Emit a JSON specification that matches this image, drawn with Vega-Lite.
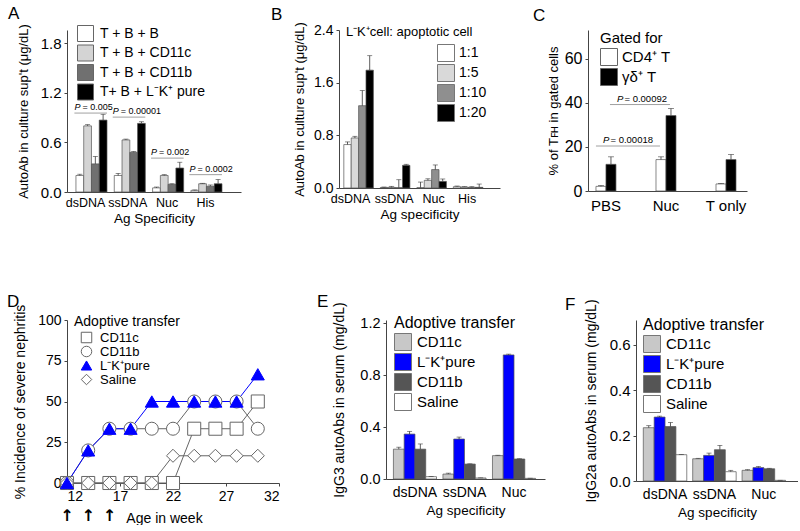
{
"$schema": "https://vega.github.io/schema/vega-lite/v6.json",
"padding": {"left": 7, "top": 5, "right": 0, "bottom": 0},
"config": {
  "font": "Liberation Sans",
  "view": {"stroke": null},
  "axis": {"domainColor": "#444", "tickColor": "#444", "labelColor": "#000", "titleColor": "#000", "grid": false, "tickSize": 3, "labelFontSize": 15, "titleFontSize": 13, "titleFontWeight": "normal", "labelFont": "Liberation Sans", "titleFont": "Liberation Sans"},
  "legend": {"labelFont": "Liberation Sans", "titleFont": "Liberation Sans", "titleFontWeight": "normal", "padding": 0, "labelColor": "#000", "titleColor": "#000"},
  "title": {"font": "Liberation Sans", "fontSize": 17, "fontWeight": "normal", "anchor": "start", "frame": "group", "baseline": "alphabetic"},
  "text": {"font": "Liberation Sans"}
},
"resolve": {"scale": {"color": "independent", "xOffset": "independent", "shape": "independent", "fill": "independent", "stroke": "independent", "x": "independent", "y": "independent"}, "legend": {"color": "independent", "shape": "independent", "fill": "independent", "stroke": "independent"}},
"spacing": 67,
"vconcat": [
{
  "bounds": "flush",
  "spacing": 98,
  "resolve": {"scale": {"color": "independent", "xOffset": "independent", "shape": "independent", "fill": "independent", "stroke": "independent", "x": "independent", "y": "independent"}, "legend": {"color": "independent", "shape": "independent", "fill": "independent", "stroke": "independent"}},
  "hconcat": [
  {
    "width": 174, "height": 162,
    "title": {"text": "A", "dx": -59, "offset": 0.5},
    "data": {"values": [
      {"Ag": "dsDNA", "grp": "T + B + B", "v": 0.20, "hi": 0.215},
      {"Ag": "dsDNA", "grp": "T + B + CD11c", "v": 0.80, "hi": 0.815},
      {"Ag": "dsDNA", "grp": "T + B + CD11b", "v": 0.34, "hi": 0.43},
      {"Ag": "dsDNA", "grp": "T+ B + L⁻K⁺ pure", "v": 0.87, "hi": 0.94},
      {"Ag": "ssDNA", "grp": "T + B + B", "v": 0.20, "hi": 0.225},
      {"Ag": "ssDNA", "grp": "T + B + CD11c", "v": 0.63, "hi": 0.64},
      {"Ag": "ssDNA", "grp": "T + B + CD11b", "v": 0.48, "hi": 0.49},
      {"Ag": "ssDNA", "grp": "T+ B + L⁻K⁺ pure", "v": 0.83, "hi": 0.85},
      {"Ag": "Nuc", "grp": "T + B + B", "v": 0.05, "hi": 0.06},
      {"Ag": "Nuc", "grp": "T + B + CD11c", "v": 0.20, "hi": 0.21},
      {"Ag": "Nuc", "grp": "T + B + CD11b", "v": 0.093, "hi": 0.10},
      {"Ag": "Nuc", "grp": "T+ B + L⁻K⁺ pure", "v": 0.29, "hi": 0.36},
      {"Ag": "His", "grp": "T + B + B", "v": 0.02, "hi": 0.025},
      {"Ag": "His", "grp": "T + B + CD11c", "v": 0.10, "hi": 0.105},
      {"Ag": "His", "grp": "T + B + CD11b", "v": 0.07, "hi": 0.085},
      {"Ag": "His", "grp": "T+ B + L⁻K⁺ pure", "v": 0.10, "hi": 0.15}
    ]},
    "layer": [
      {
        "mark": {"type": "bar", "stroke": "#555", "strokeWidth": 0.7},
        "encoding": {
          "x": {"field": "Ag", "type": "nominal", "scale": {"domain": ["dsDNA", "ssDNA", "Nuc", "His"], "paddingInner": 0.19, "paddingOuter": 0.365, "align": 0.32}, "axis": {"title": "Ag Specificity", "labelAngle": 0, "ticks": false, "labelPadding": 4, "titlePadding": 3, "labelFontSize": 12.5, "labelOffset": {"condition": [{"test": "datum.value === 'dsDNA'", "value": -6}, {"test": "datum.value === 'ssDNA'", "value": -2}], "value": -1}, "titleFontSize": 13.5}},
          "xOffset": {"field": "grp", "type": "nominal", "scale": {"domain": ["T + B + B", "T + B + CD11c", "T + B + CD11b", "T+ B + L⁻K⁺ pure"], "paddingInner": 0, "paddingOuter": 0}},
          "y": {"field": "v", "type": "quantitative", "title": "AutoAb in culture sup't (μg/dL)", "scale": {"domain": [0, 1.96], "nice": false}, "axis": {"values": [0, 0.6, 1.2, 1.8], "format": ".1f", "titlePadding": 10, "labelPadding": 3}},
          "color": {"field": "grp", "type": "nominal", "scale": {"domain": ["T + B + B", "T + B + CD11c", "T + B + CD11b", "T+ B + L⁻K⁺ pure"], "range": ["#ffffff", "#d4d4d4", "#707070", "#000000"]}, "legend": {"title": null, "orient": "none", "legendX": 10, "legendY": -5, "symbolType": "square", "symbolSize": 256, "symbolStrokeColor": "#666", "symbolStrokeWidth": 1, "symbolOpacity": 1, "labelFontSize": 14, "rowPadding": -1.5, "labelOffset": 6}}
        }
      },
      {
        "mark": {"type": "rule", "color": "#333", "strokeWidth": 0.8},
        "encoding": {
          "x": {"field": "Ag", "type": "nominal"},
          "xOffset": {"field": "grp", "type": "nominal"},
          "y": {"field": "v", "type": "quantitative", "title": "AutoAb in culture sup't (μg/dL)"},
          "y2": {"field": "hi"}
        }
      },
      {
        "mark": {"type": "tick", "orient": "horizontal", "size": 5, "thickness": 0.8, "color": "#333"},
        "encoding": {
          "x": {"field": "Ag", "type": "nominal"},
          "xOffset": {"field": "grp", "type": "nominal"},
          "y": {"field": "hi", "type": "quantitative", "title": "AutoAb in culture sup't (μg/dL)"}
        }
      },
      {
        "data": {"values": [
          {"Ag": "dsDNA", "v": 0.955, "p": "= 0.005"},
          {"Ag": "ssDNA", "v": 0.906, "p": "= 0.00001"},
          {"Ag": "Nuc", "v": 0.41, "p": "= 0.002"},
          {"Ag": "His", "v": 0.21, "p": "= 0.0002"}
        ]},
        "layer": [
          {
            "mark": {"type": "rule", "color": "#888", "strokeWidth": 0.8},
            "encoding": {
              "x": {"field": "Ag", "type": "nominal", "bandPosition": -0.05},
              "x2": {"field": "Ag", "bandPosition": 1.0},
              "y": {"field": "v", "type": "quantitative", "title": "AutoAb in culture sup't (μg/dL)"}
            }
          },
          {
            "mark": {"type": "text", "text": "P", "fontStyle": "italic", "fontSize": 9, "align": "left", "baseline": "bottom", "dy": -1},
            "encoding": {
              "x": {"field": "Ag", "type": "nominal", "bandPosition": -0.05},
              "y": {"field": "v", "type": "quantitative", "title": "AutoAb in culture sup't (μg/dL)"}
            }
          },
          {
            "mark": {"type": "text", "fontSize": 9, "align": "left", "baseline": "bottom", "dy": -1, "dx": 8},
            "encoding": {
              "x": {"field": "Ag", "type": "nominal", "bandPosition": -0.05},
              "y": {"field": "v", "type": "quantitative", "title": "AutoAb in culture sup't (μg/dL)"},
              "text": {"field": "p"}
            }
          }
        ]
      }
    ]
  },
  {
    "bounds": "flush",
    "spacing": 88,
    "resolve": {"scale": {"color": "independent", "xOffset": "independent", "shape": "independent", "fill": "independent", "stroke": "independent", "x": "independent", "y": "independent"}, "legend": {"color": "independent", "shape": "independent", "fill": "independent", "stroke": "independent"}},
    "hconcat": [
    {
      "width": 161, "height": 158,
      "title": {"text": "B", "dx": -68, "offset": -2},
      "data": {"values": [
        {"Ag": "dsDNA", "grp": "1:1", "v": 0.66, "hi": 0.70},
        {"Ag": "dsDNA", "grp": "1:5", "v": 0.76, "hi": 0.785},
        {"Ag": "dsDNA", "grp": "1:10", "v": 1.25, "hi": 1.48},
        {"Ag": "dsDNA", "grp": "1:20", "v": 1.79, "hi": 2.01},
        {"Ag": "ssDNA", "grp": "1:1", "v": 0.008, "hi": 0.015},
        {"Ag": "ssDNA", "grp": "1:5", "v": 0.01, "hi": 0.025},
        {"Ag": "ssDNA", "grp": "1:10", "v": 0.005, "hi": 0.126},
        {"Ag": "ssDNA", "grp": "1:20", "v": 0.344, "hi": 0.36},
        {"Ag": "Nuc", "grp": "1:1", "v": 0.005, "hi": 0.09},
        {"Ag": "Nuc", "grp": "1:5", "v": 0.116, "hi": 0.14},
        {"Ag": "Nuc", "grp": "1:10", "v": 0.28, "hi": 0.35},
        {"Ag": "Nuc", "grp": "1:20", "v": 0.10, "hi": 0.137},
        {"Ag": "His", "grp": "1:1", "v": 0.02, "hi": 0.03},
        {"Ag": "His", "grp": "1:5", "v": 0.015, "hi": 0.02},
        {"Ag": "His", "grp": "1:10", "v": 0.01, "hi": 0.02},
        {"Ag": "His", "grp": "1:20", "v": 0.01, "hi": 0.06}
      ]},
      "layer": [
        {
          "mark": {"type": "bar", "stroke": "#555", "strokeWidth": 0.7},
          "encoding": {
            "x": {"field": "Ag", "type": "nominal", "scale": {"domain": ["dsDNA", "ssDNA", "Nuc", "His"], "paddingInner": 0.19, "paddingOuter": 0.3, "align": 0.22}, "axis": {"title": "Ag specificity", "labelAngle": 0, "ticks": false, "labelPadding": 4, "titlePadding": 3, "labelFontSize": 12.5, "labelOffset": {"condition": [{"test": "datum.value === 'dsDNA'", "value": -8}, {"test": "datum.value === 'Nuc'", "value": 2}], "value": -1}, "titleFontSize": 13.5}},
            "xOffset": {"field": "grp", "type": "nominal", "scale": {"domain": ["1:1", "1:5", "1:10", "1:20"], "paddingInner": 0, "paddingOuter": 0}},
            "y": {"field": "v", "type": "quantitative", "title": "AutoAb in culture sup't (μg/dL)", "scale": {"domain": [0, 2.4], "nice": false}, "axis": {"values": [0, 0.8, 1.6, 2.4], "format": ".1f", "titlePadding": 7, "labelPadding": 3, "labelFontSize": 14}},
            "color": {"field": "grp", "type": "nominal", "scale": {"domain": ["1:1", "1:5", "1:10", "1:20"], "range": ["#ffffff", "#d9d9d9", "#8f8f8f", "#000000"]}, "legend": {"title": null, "orient": "none", "legendX": 98, "legendY": 14, "symbolType": "square", "symbolSize": 289, "symbolStrokeColor": "#777", "symbolStrokeWidth": 1, "symbolOpacity": 1, "labelFontSize": 14, "rowPadding": -2, "labelOffset": 4}}
          }
        },
        {
          "mark": {"type": "rule", "color": "#333", "strokeWidth": 0.8},
          "encoding": {
            "x": {"field": "Ag", "type": "nominal"},
            "xOffset": {"field": "grp", "type": "nominal"},
            "y": {"field": "v", "type": "quantitative", "title": "AutoAb in culture sup't (μg/dL)"},
            "y2": {"field": "hi"}
          }
        },
        {
          "mark": {"type": "tick", "orient": "horizontal", "size": 5, "thickness": 0.8, "color": "#333"},
          "encoding": {
            "x": {"field": "Ag", "type": "nominal"},
            "xOffset": {"field": "grp", "type": "nominal"},
            "y": {"field": "hi", "type": "quantitative", "title": "AutoAb in culture sup't (μg/dL)"}
          }
        },
        {
          "data": {"values": [{"Ag": "dsDNA", "v": 2.4, "t": "L⁻K⁺cell: apoptotic cell"}]},
          "mark": {"type": "text", "fontSize": 13, "align": "left", "baseline": "middle", "dy": 2},
          "encoding": {
            "x": {"field": "Ag", "type": "nominal", "bandPosition": 0.07},
            "y": {"field": "v", "type": "quantitative", "title": "AutoAb in culture sup't (μg/dL)"},
            "text": {"field": "t"}
          }
        }
      ]
    },
    {
      "width": 159, "height": 161,
      "title": {"text": "C", "dx": -55, "offset": 5},
      "data": {"values": [
        {"cond": "PBS", "grp": "CD4⁺ T", "v": 2.1, "hi": 2.45},
        {"cond": "PBS", "grp": "γδ⁺ T", "v": 12.1, "hi": 15.5},
        {"cond": "Nuc", "grp": "CD4⁺ T", "v": 14.25, "hi": 15.5},
        {"cond": "Nuc", "grp": "γδ⁺ T", "v": 34.2, "hi": 37.4},
        {"cond": "T only", "grp": "CD4⁺ T", "v": 3.2, "hi": 3.4},
        {"cond": "T only", "grp": "γδ⁺ T", "v": 14.25, "hi": 16.55}
      ]},
      "layer": [
        {
          "mark": {"type": "bar", "stroke": "#555", "strokeWidth": 0.7},
          "encoding": {
            "x": {"field": "cond", "type": "nominal", "scale": {"domain": ["PBS", "Nuc", "T only"], "paddingInner": 0.667, "paddingOuter": 0.158, "align": 0.42}, "axis": {"title": null, "labelAngle": 0, "ticks": false, "labelPadding": 7, "labelFontSize": 15}},
            "xOffset": {"field": "grp", "type": "nominal", "scale": {"domain": ["CD4⁺ T", "γδ⁺ T"], "paddingInner": 0, "paddingOuter": 0}},
            "y": {"field": "v", "type": "quantitative", "title": "% of Tꜰʜ in gated cells", "scale": {"domain": [0, 73], "nice": false}, "axis": {"values": [0, 20, 40, 60], "titlePadding": 4, "labelPadding": 3, "labelFontSize": 16}},
            "color": {"field": "grp", "type": "nominal", "scale": {"domain": ["CD4⁺ T", "γδ⁺ T"], "range": ["#ffffff", "#000000"]}, "legend": {"title": "Gated for", "titleFontSize": 15, "titlePadding": 2, "orient": "none", "legendX": 12, "legendY": 1, "symbolType": "square", "symbolSize": 289, "symbolStrokeColor": "#666", "symbolStrokeWidth": 1, "symbolOpacity": 1, "labelFontSize": 15, "rowPadding": -2.5, "labelOffset": 4}}
          }
        },
        {
          "mark": {"type": "rule", "color": "#333", "strokeWidth": 0.8},
          "encoding": {
            "x": {"field": "cond", "type": "nominal"},
            "xOffset": {"field": "grp", "type": "nominal"},
            "y": {"field": "v", "type": "quantitative", "title": "% of Tꜰʜ in gated cells"},
            "y2": {"field": "hi"}
          }
        },
        {
          "mark": {"type": "tick", "orient": "horizontal", "size": 6, "thickness": 0.8, "color": "#333"},
          "encoding": {
            "x": {"field": "cond", "type": "nominal"},
            "xOffset": {"field": "grp", "type": "nominal"},
            "y": {"field": "hi", "type": "quantitative", "title": "% of Tꜰʜ in gated cells"}
          }
        },
        {
          "data": {"values": [{"from": "PBS", "to": "Nuc", "v": 20.4, "p": "= 0.00018"}]},
          "layer": [
            {
              "mark": {"type": "rule", "color": "#888", "strokeWidth": 0.8},
              "encoding": {
                "x": {"field": "from", "type": "nominal", "bandPosition": 0},
                "x2": {"field": "to", "bandPosition": 0.2},
                "y": {"field": "v", "type": "quantitative", "title": "% of Tꜰʜ in gated cells"}
              }
            },
            {
              "mark": {"type": "text", "text": "P", "fontStyle": "italic", "fontSize": 9.5, "align": "left", "baseline": "bottom", "dy": -1},
              "encoding": {
                "x": {"field": "from", "type": "nominal", "bandPosition": 0.35},
                "y": {"field": "v", "type": "quantitative", "title": "% of Tꜰʜ in gated cells"}
              }
            },
            {
              "mark": {"type": "text", "fontSize": 9.5, "align": "left", "baseline": "bottom", "dy": -1, "dx": 7.5},
              "encoding": {
                "x": {"field": "from", "type": "nominal", "bandPosition": 0.35},
                "y": {"field": "v", "type": "quantitative", "title": "% of Tꜰʜ in gated cells"},
                "text": {"field": "p"}
              }
            }
          ]
        },
        {
          "data": {"values": [{"from": "PBS", "to": "Nuc", "v": 39.2, "p": "= 0.00092"}]},
          "layer": [
            {
              "mark": {"type": "rule", "color": "#888", "strokeWidth": 0.8},
              "encoding": {
                "x": {"field": "from", "type": "nominal", "bandPosition": 0.7},
                "x2": {"field": "to", "bandPosition": 0.7},
                "y": {"field": "v", "type": "quantitative", "title": "% of Tꜰʜ in gated cells"}
              }
            },
            {
              "mark": {"type": "text", "text": "P", "fontStyle": "italic", "fontSize": 9.5, "align": "left", "baseline": "bottom", "dy": -1},
              "encoding": {
                "x": {"field": "from", "type": "nominal", "bandPosition": 1.05},
                "y": {"field": "v", "type": "quantitative", "title": "% of Tꜰʜ in gated cells"}
              }
            },
            {
              "mark": {"type": "text", "fontSize": 9.5, "align": "left", "baseline": "bottom", "dy": -1, "dx": 7.5},
              "encoding": {
                "x": {"field": "from", "type": "nominal", "bandPosition": 1.05},
                "y": {"field": "v", "type": "quantitative", "title": "% of Tꜰʜ in gated cells"},
                "text": {"field": "p"}
              }
            }
          ]
        }
      ]
    }
    ]
  }
  ]
},
{
  "bounds": "flush",
  "spacing": 107,
  "resolve": {"scale": {"color": "independent", "xOffset": "independent", "shape": "independent", "fill": "independent", "stroke": "independent", "x": "independent", "y": "independent"}, "legend": {"color": "independent", "shape": "independent", "fill": "independent", "stroke": "independent"}},
  "hconcat": [
  {
    "width": 212, "height": 163,
    "title": {"text": "D", "dx": -60, "offset": -6.5},
    "data": {"values": [
      {"series": "CD11c", "week": 12, "pct": 0}, {"series": "CD11c", "week": 14, "pct": 0}, {"series": "CD11c", "week": 16, "pct": 0}, {"series": "CD11c", "week": 18, "pct": 0}, {"series": "CD11c", "week": 20, "pct": 0}, {"series": "CD11c", "week": 22, "pct": 0}, {"series": "CD11c", "week": 24, "pct": 33.3}, {"series": "CD11c", "week": 26, "pct": 33.3}, {"series": "CD11c", "week": 28, "pct": 33.3}, {"series": "CD11c", "week": 30, "pct": 50},
      {"series": "CD11b", "week": 12, "pct": 0}, {"series": "CD11b", "week": 14, "pct": 20}, {"series": "CD11b", "week": 16, "pct": 33.3}, {"series": "CD11b", "week": 18, "pct": 33.3}, {"series": "CD11b", "week": 20, "pct": 33.3}, {"series": "CD11b", "week": 22, "pct": 33.3}, {"series": "CD11b", "week": 24, "pct": 50}, {"series": "CD11b", "week": 26, "pct": 50}, {"series": "CD11b", "week": 28, "pct": 50}, {"series": "CD11b", "week": 30, "pct": 33.3},
      {"series": "Saline", "week": 12, "pct": 0}, {"series": "Saline", "week": 14, "pct": 0}, {"series": "Saline", "week": 16, "pct": 0}, {"series": "Saline", "week": 18, "pct": 0}, {"series": "Saline", "week": 20, "pct": 0}, {"series": "Saline", "week": 22, "pct": 16.7}, {"series": "Saline", "week": 24, "pct": 16.7}, {"series": "Saline", "week": 26, "pct": 16.7}, {"series": "Saline", "week": 28, "pct": 16.7}, {"series": "Saline", "week": 30, "pct": 16.7},
      {"series": "L⁻K⁺pure", "week": 12, "pct": 0}, {"series": "L⁻K⁺pure", "week": 14, "pct": 20}, {"series": "L⁻K⁺pure", "week": 16, "pct": 33.3}, {"series": "L⁻K⁺pure", "week": 18, "pct": 33.3}, {"series": "L⁻K⁺pure", "week": 20, "pct": 50}, {"series": "L⁻K⁺pure", "week": 22, "pct": 50}, {"series": "L⁻K⁺pure", "week": 24, "pct": 50}, {"series": "L⁻K⁺pure", "week": 26, "pct": 50}, {"series": "L⁻K⁺pure", "week": 28, "pct": 50}, {"series": "L⁻K⁺pure", "week": 30, "pct": 66.7}
    ]},
    "layer": [
      {
        "transform": [{"filter": "datum.series !== 'L⁻K⁺pure'"}],
        "mark": {"type": "line", "strokeWidth": 1, "color": "#666666"},
        "encoding": {
          "x": {"field": "week", "type": "quantitative", "title": "Age in week", "scale": {"domain": [12, 32], "nice": false, "zero": false}, "axis": {"values": [12, 17, 22, 27, 32], "labelFontSize": 14, "labelPadding": 3, "titlePadding": 8, "titleFontSize": 14, "titleX": 97}},
          "y": {"field": "pct", "type": "quantitative", "title": "% Incidence of severe nephritis", "scale": {"domain": [0, 100], "nice": false}, "axis": {"values": [0, 25, 50, 75, 100], "labelFontSize": 14, "labelPadding": 3, "titlePadding": 10, "titleFontSize": 14}},
          "detail": {"field": "series", "type": "nominal"}
        }
      },
      {
        "transform": [{"filter": "datum.series === 'L⁻K⁺pure'"}],
        "mark": {"type": "line", "strokeWidth": 1, "color": "#0000ff"},
        "encoding": {
          "x": {"field": "week", "type": "quantitative", "title": "Age in week"},
          "y": {"field": "pct", "type": "quantitative", "title": "% Incidence of severe nephritis"}
        }
      },
      {
        "mark": {"type": "point", "filled": true, "size": 170, "strokeWidth": 1, "opacity": 1},
        "encoding": {
          "x": {"field": "week", "type": "quantitative", "title": "Age in week"},
          "y": {"field": "pct", "type": "quantitative", "title": "% Incidence of severe nephritis"},
          "shape": {"field": "series", "type": "nominal", "scale": {"domain": ["CD11c", "CD11b", "L⁻K⁺pure", "Saline"], "range": ["square", "circle", "triangle-up", "diamond"]}, "legend": {"title": "Adoptive transfer", "orient": "none", "legendX": 7, "legendY": -5, "titleFontSize": 14, "labelFontSize": 13, "symbolSize": 110, "symbolOffset": 6, "labelOffset": 7, "rowPadding": -4, "titlePadding": 2, "symbolStrokeWidth": 1, "symbolOpacity": 1}},
          "fill": {"field": "series", "type": "nominal", "scale": {"domain": ["CD11c", "CD11b", "L⁻K⁺pure", "Saline"], "range": ["#ffffff", "#ffffff", "#0000ff", "#ffffff"]}, "legend": {"title": "Adoptive transfer", "orient": "none", "legendX": 7, "legendY": -5, "titleFontSize": 14, "labelFontSize": 13, "symbolSize": 110, "symbolOffset": 6, "labelOffset": 7, "rowPadding": -4, "titlePadding": 2, "symbolStrokeWidth": 1, "symbolOpacity": 1}},
          "stroke": {"field": "series", "type": "nominal", "scale": {"domain": ["CD11c", "CD11b", "L⁻K⁺pure", "Saline"], "range": ["#666666", "#666666", "#0000ff", "#666666"]}, "legend": {"title": "Adoptive transfer", "orient": "none", "legendX": 7, "legendY": -5, "titleFontSize": 14, "labelFontSize": 13, "symbolSize": 110, "symbolOffset": 6, "labelOffset": 7, "rowPadding": -4, "titlePadding": 2, "symbolStrokeWidth": 1, "symbolOpacity": 1}}
        }
      },
      {
        "data": {"values": [{"week": 12}, {"week": 14}, {"week": 16}]},
        "mark": {"type": "text", "text": "↑", "font": "DejaVu Sans", "fontSize": 16, "fontWeight": "bold", "baseline": "top", "dy": 25},
        "encoding": {
          "x": {"field": "week", "type": "quantitative", "title": "Age in week"},
          "y": {"datum": 0}
        }
      }
    ]
  },
  {
    "bounds": "flush",
    "spacing": 91,
    "resolve": {"scale": {"color": "independent", "xOffset": "independent", "shape": "independent", "fill": "independent", "stroke": "independent", "x": "independent", "y": "independent"}, "legend": {"color": "independent", "shape": "independent", "fill": "independent", "stroke": "independent"}},
    "hconcat": [
    {
      "width": 159, "height": 159,
      "title": {"text": "E", "dx": -69, "offset": -9.5},
      "data": {"values": [
        {"Ag": "dsDNA", "grp": "CD11c", "v": 0.23, "hi": 0.245},
        {"Ag": "dsDNA", "grp": "L⁻K⁺pure", "v": 0.346, "hi": 0.367},
        {"Ag": "dsDNA", "grp": "CD11b", "v": 0.23, "hi": 0.27},
        {"Ag": "dsDNA", "grp": "Saline", "v": 0.018, "hi": 0.02},
        {"Ag": "ssDNA", "grp": "CD11c", "v": 0.038, "hi": 0.045},
        {"Ag": "ssDNA", "grp": "L⁻K⁺pure", "v": 0.308, "hi": 0.323},
        {"Ag": "ssDNA", "grp": "CD11b", "v": 0.115, "hi": 0.117},
        {"Ag": "ssDNA", "grp": "Saline", "v": 0.008, "hi": 0.009},
        {"Ag": "Nuc", "grp": "CD11c", "v": 0.18, "hi": 0.183},
        {"Ag": "Nuc", "grp": "L⁻K⁺pure", "v": 0.956, "hi": 0.962},
        {"Ag": "Nuc", "grp": "CD11b", "v": 0.154, "hi": 0.156},
        {"Ag": "Nuc", "grp": "Saline", "v": 0.005, "hi": 0.006}
      ]},
      "layer": [
        {
          "mark": {"type": "bar", "stroke": "#555", "strokeWidth": 0.7},
          "encoding": {
            "x": {"field": "Ag", "type": "nominal", "scale": {"domain": ["dsDNA", "ssDNA", "Nuc"], "paddingInner": 0.13, "paddingOuter": 0.17, "align": 0.44}, "axis": {"title": "Ag specificity", "labelAngle": 0, "ticks": false, "labelPadding": 6, "titlePadding": 4, "labelFontSize": 14, "titleFontSize": 13.5}},
            "xOffset": {"field": "grp", "type": "nominal", "scale": {"domain": ["CD11c", "L⁻K⁺pure", "CD11b", "Saline"], "paddingInner": 0, "paddingOuter": 0}},
            "y": {"field": "v", "type": "quantitative", "title": "IgG3 autoAbs in serum (mg/dL)", "scale": {"domain": [0, 1.225], "nice": false}, "axis": {"values": [0, 0.4, 0.8, 1.2], "format": ".1f", "titlePadding": 13, "labelPadding": 3, "labelFontSize": 14.5, "titleFontSize": 14}},
            "color": {"field": "grp", "type": "nominal", "scale": {"domain": ["CD11c", "L⁻K⁺pure", "CD11b", "Saline"], "range": ["#c8c8c8", "#0000ff", "#555555", "#ffffff"]}, "legend": {"title": "Adoptive transfer", "titleFontSize": 16, "titlePadding": 2, "orient": "none", "legendX": 8, "legendY": -5, "symbolType": "square", "symbolSize": 289, "symbolStrokeColor": "#777", "symbolStrokeWidth": 1, "symbolOpacity": 1, "labelFontSize": 15, "rowPadding": -2.7, "labelOffset": 5}}
          }
        },
        {
          "mark": {"type": "rule", "color": "#333", "strokeWidth": 0.8},
          "encoding": {
            "x": {"field": "Ag", "type": "nominal"},
            "xOffset": {"field": "grp", "type": "nominal"},
            "y": {"field": "v", "type": "quantitative", "title": "IgG3 autoAbs in serum (mg/dL)"},
            "y2": {"field": "hi"}
          }
        },
        {
          "mark": {"type": "tick", "orient": "horizontal", "size": 5, "thickness": 0.8, "color": "#333"},
          "encoding": {
            "x": {"field": "Ag", "type": "nominal"},
            "xOffset": {"field": "grp", "type": "nominal"},
            "y": {"field": "hi", "type": "quantitative", "title": "IgG3 autoAbs in serum (mg/dL)"}
          }
        }
      ]
    },
    {
      "width": 162, "height": 161,
      "title": {"text": "F", "dx": -71, "offset": -15.5},
      "data": {"values": [
        {"Ag": "dsDNA", "grp": "CD11c", "v": 0.235, "hi": 0.244},
        {"Ag": "dsDNA", "grp": "L⁻K⁺pure", "v": 0.282, "hi": 0.286},
        {"Ag": "dsDNA", "grp": "CD11b", "v": 0.24, "hi": 0.258},
        {"Ag": "dsDNA", "grp": "Saline", "v": 0.116, "hi": 0.117},
        {"Ag": "ssDNA", "grp": "CD11c", "v": 0.098, "hi": 0.10},
        {"Ag": "ssDNA", "grp": "L⁻K⁺pure", "v": 0.113, "hi": 0.123},
        {"Ag": "ssDNA", "grp": "CD11b", "v": 0.138, "hi": 0.157},
        {"Ag": "ssDNA", "grp": "Saline", "v": 0.041, "hi": 0.047},
        {"Ag": "Nuc", "grp": "CD11c", "v": 0.047, "hi": 0.05},
        {"Ag": "Nuc", "grp": "L⁻K⁺pure", "v": 0.059, "hi": 0.064},
        {"Ag": "Nuc", "grp": "CD11b", "v": 0.054, "hi": 0.056},
        {"Ag": "Nuc", "grp": "Saline", "v": 0.003, "hi": 0.003}
      ]},
      "layer": [
        {
          "mark": {"type": "bar", "stroke": "#555", "strokeWidth": 0.7},
          "encoding": {
            "x": {"field": "Ag", "type": "nominal", "scale": {"domain": ["dsDNA", "ssDNA", "Nuc"], "paddingInner": 0.12, "paddingOuter": 0.2, "align": 0.37}, "axis": {"title": "Ag specificity", "labelAngle": 0, "ticks": false, "labelPadding": 6, "titlePadding": 4, "labelFontSize": 14, "titleFontSize": 13.5}},
            "xOffset": {"field": "grp", "type": "nominal", "scale": {"domain": ["CD11c", "L⁻K⁺pure", "CD11b", "Saline"], "paddingInner": 0, "paddingOuter": 0}},
            "y": {"field": "v", "type": "quantitative", "title": "IgG2a autoAbs in serum (mg/dL)", "scale": {"domain": [0, 0.71], "nice": false}, "axis": {"values": [0, 0.2, 0.4, 0.6], "format": ".1f", "titlePadding": 11, "labelPadding": 3, "labelFontSize": 15, "titleFontSize": 14}},
            "color": {"field": "grp", "type": "nominal", "scale": {"domain": ["CD11c", "L⁻K⁺pure", "CD11b", "Saline"], "range": ["#c8c8c8", "#0000ff", "#555555", "#ffffff"]}, "legend": {"title": "Adoptive transfer", "titleFontSize": 16, "titlePadding": 2, "orient": "none", "legendX": 7, "legendY": -3, "symbolType": "square", "symbolSize": 289, "symbolStrokeColor": "#777", "symbolStrokeWidth": 1, "symbolOpacity": 1, "labelFontSize": 15, "rowPadding": -2.3, "labelOffset": 5}}
          }
        },
        {
          "mark": {"type": "rule", "color": "#333", "strokeWidth": 0.8},
          "encoding": {
            "x": {"field": "Ag", "type": "nominal"},
            "xOffset": {"field": "grp", "type": "nominal"},
            "y": {"field": "v", "type": "quantitative", "title": "IgG2a autoAbs in serum (mg/dL)"},
            "y2": {"field": "hi"}
          }
        },
        {
          "mark": {"type": "tick", "orient": "horizontal", "size": 5, "thickness": 0.8, "color": "#333"},
          "encoding": {
            "x": {"field": "Ag", "type": "nominal"},
            "xOffset": {"field": "grp", "type": "nominal"},
            "y": {"field": "hi", "type": "quantitative", "title": "IgG2a autoAbs in serum (mg/dL)"}
          }
        }
      ]
    }
    ]
  }
  ]
}
]
}
